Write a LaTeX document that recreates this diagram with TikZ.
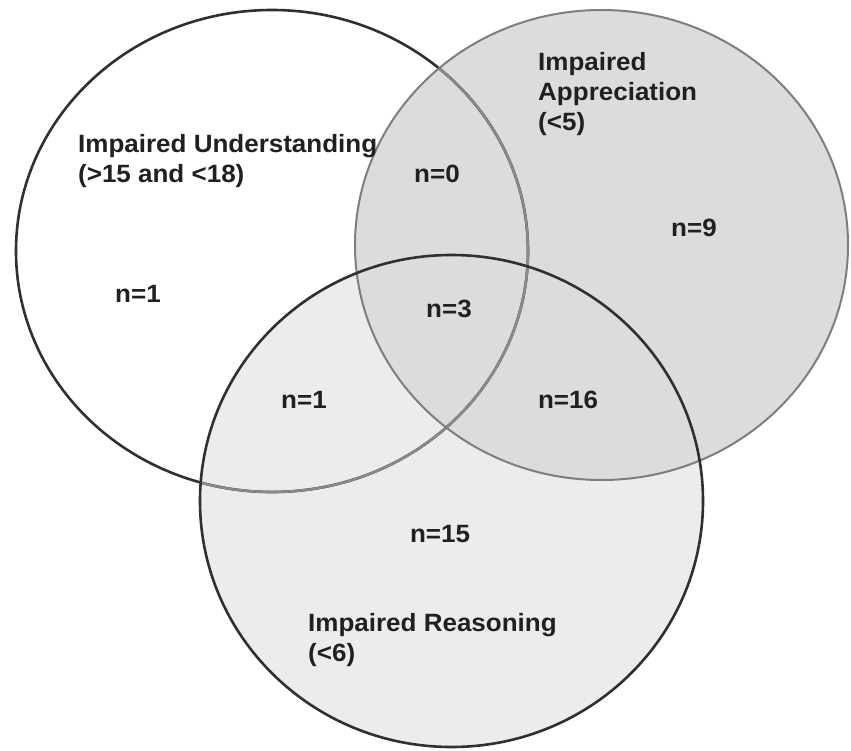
\documentclass[tikz,border=0pt]{standalone}
\usepackage{fontspec}
\setmainfont{Liberation Sans}[FakeStretch=1.04]
\definecolor{txt}{HTML}{202020}
\definecolor{darkline}{HTML}{303030}
\definecolor{grayline}{HTML}{7E7E7E}
\definecolor{inline}{HTML}{8A8A8A}
\definecolor{cfill}{HTML}{ECECEC}
\definecolor{bfill}{HTML}{DCDCDC}
\begin{document}
\begin{tikzpicture}[x=1pt,y=-1pt,
  lbl/.style={font=\fontsize{25}{30}\selectfont\bfseries, text=txt, inner sep=0pt, align=left, anchor=north west},
  cnt/.style={font=\fontsize{25}{30}\selectfont\bfseries, text=txt, inner sep=0pt, anchor=base}]
\useasboundingbox (0,0) rectangle (851,751);
\fill[white] (0,0) rectangle (851,751);
% fills
\fill[white] (272,251) ellipse [x radius=256, y radius=241];
\fill[cfill] (451.5,501) ellipse [x radius=251.5, y radius=246];
\fill[bfill] (601.5,245) ellipse [x radius=246.5, y radius=235];
% circle A stroke: dark outside, lighter where it lies inside B or C
\draw[darkline, line width=2.6pt] (272,251) ellipse [x radius=256, y radius=241];
\begin{scope}
  \clip (451.5,501) ellipse [x radius=250, y radius=244.5];
  \draw[inline, line width=2.4pt] (272,251) ellipse [x radius=256, y radius=241];
\end{scope}
\begin{scope}
  \clip (601.5,245) ellipse [x radius=245.5, y radius=234];
  \draw[inline, line width=2.4pt] (272,251) ellipse [x radius=256, y radius=241];
\end{scope}
% circle B stroke
\draw[grayline, line width=2pt] (601.5,245) ellipse [x radius=246.5, y radius=235];
% circle C stroke
\draw[darkline, line width=2.6pt] (451.5,501) ellipse [x radius=251.5, y radius=246];
% labels
\node[lbl] (lu) at (78,134) {Impaired Understanding\\(>15 and <18)};
\node[lbl] (la) at (538,52) {Impaired\\Appreciation\\(<5)};
\node[lbl] (lr) at (308,613) {Impaired Reasoning\\(<6)};
% counts
\node[cnt] (n1) at (138,302) {n=1};
\node[cnt] (n0) at (437,183) {n=0};
\node[cnt] (n9) at (694,237) {n=9};
\node[cnt] (n3) at (449,317) {n=3};
\node[cnt] (n1b) at (304,408) {n=1};
\node[cnt] (n16) at (568,408) {n=16};
\node[cnt] (n15) at (440,542) {n=15};
\end{tikzpicture}
\end{document}
